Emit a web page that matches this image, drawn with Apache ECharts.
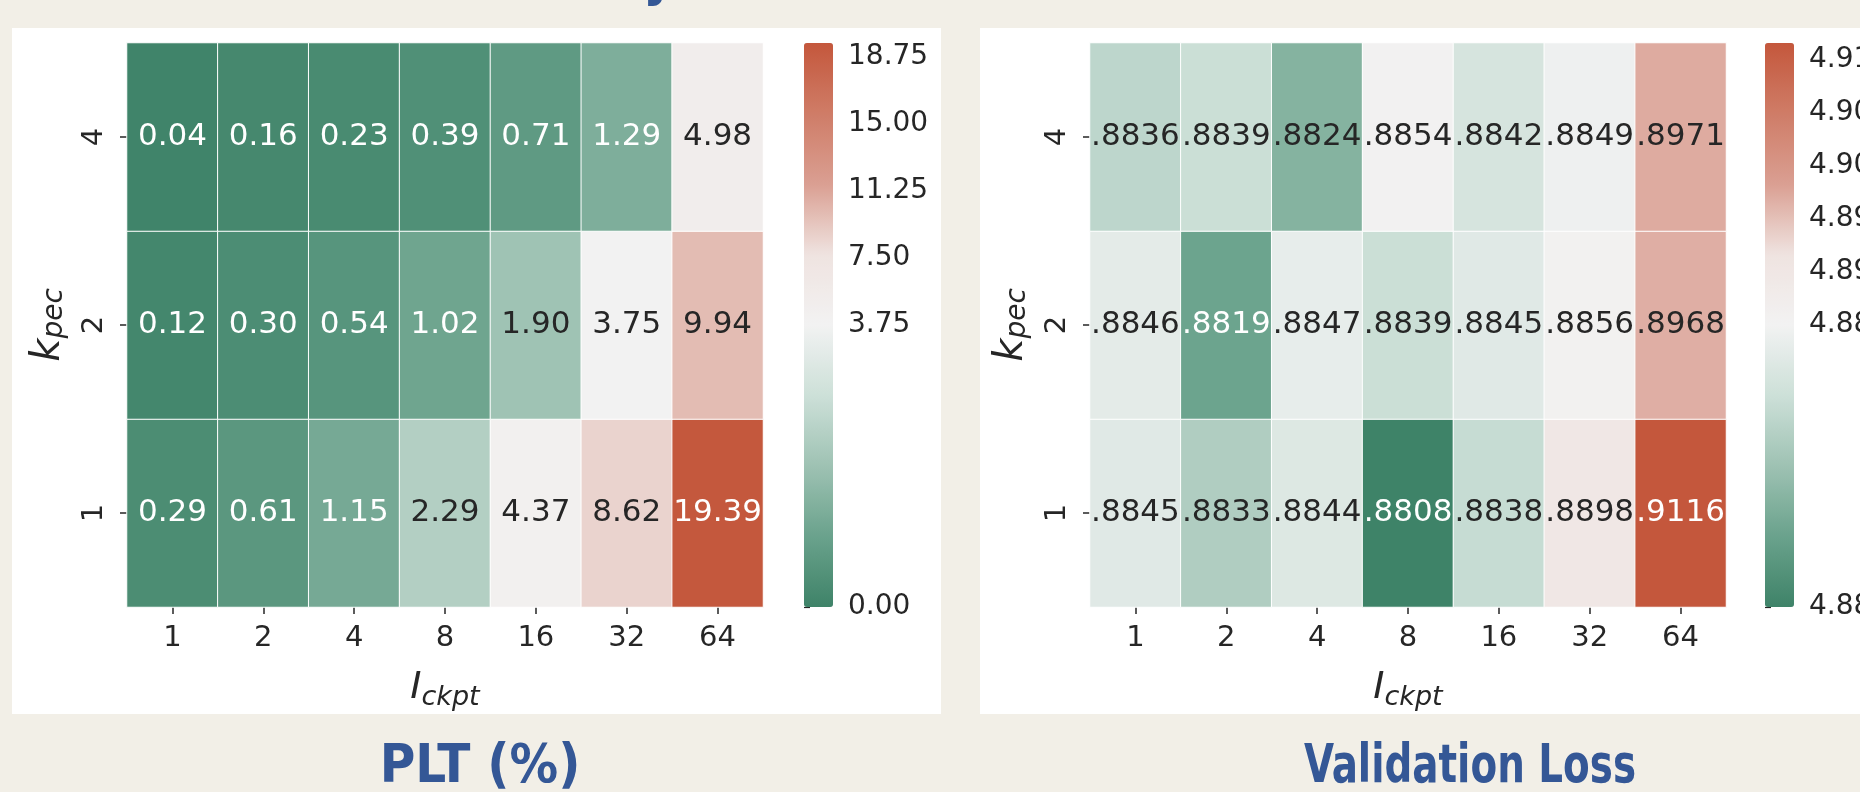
<!DOCTYPE html>
<html>
<head>
<meta charset="utf-8">
<script src="https://cdn.jsdelivr.net/npm/echarts@6/dist/echarts.min.js"></script>
<style>
  html, body { margin: 0; padding: 0; background: #f2efe7; }
  #chart { width: 1860px; height: 792px; }
</style>
</head>
<body>
<div id="chart"></div>
<script>
// checkpoint interval (columns) and k_pec (rows, bottom to top)
var ckptCats = ['1', '2', '4', '8', '16', '32', '64'];
var kpecCats = ['1', '2', '4'];

// PLT (%)
var pltK1 = [0.29, 0.61, 1.15, 2.29, 4.37, 8.62, 19.39];
var pltK2 = [0.12, 0.30, 0.54, 1.02, 1.90, 3.75, 9.94];
var pltK4 = [0.04, 0.16, 0.23, 0.39, 0.71, 1.29, 4.98];

// validation loss
var lossK1 = [4.8845, 4.8833, 4.8844, 4.8808, 4.8838, 4.8898, 4.9116];
var lossK2 = [4.8846, 4.8819, 4.8847, 4.8839, 4.8845, 4.8856, 4.8968];
var lossK4 = [4.8836, 4.8839, 4.8824, 4.8854, 4.8842, 4.8849, 4.8971];

// colorbar norms (vmin, vcenter, vmax) and tick labels
var pltNorm = [0, 3.75, 19.5];
var pltTicksUpper = [3.75, 7.5, 11.25, 15, 18.75];
var pltTicksLower = [0];
var lossNorm = [4.8808, 4.885, 4.9116];
var lossTicksUpper = [4.885, 4.89, 4.895, 4.9, 4.905, 4.91];
var lossTicksLower = [4.8808];

var palette = ['#3e8368', '#6aa28c', '#9ec2b3', '#cde0d8', '#f2f2f2', '#efe3e0', '#da9f92', '#cf7c67', '#c4573c'];
var FONT = 'DejaVu Sans';
var DARK = '#262626';
var TITLE_FONT = '"Liberation Sans Narrow", "DejaVu Sans Condensed", sans-serif';

function twoSlope(v, n) {
  if (v <= n[1]) return 0.5 * Math.max(0, (v - n[0]) / (n[1] - n[0]));
  return 0.5 + 0.5 * Math.min(1, (v - n[1]) / (n[2] - n[1]));
}

function cells(rows, norm) {
  var out = [];
  rows.forEach(function (row, yi) {
    row.forEach(function (v, xi) {
      var t = twoSlope(v, norm);
      out.push({
        value: [xi, yi, v, t],
        label: { color: (t < 0.18 || t > 0.85) ? '#ffffff' : DARK }
      });
    });
  });
  return out;
}

var chart = echarts.init(document.getElementById('chart'));

function catX(gi) {
  return {
    type: 'category', gridIndex: gi, data: ckptCats,
    axisLine: { show: false },
    axisTick: { show: true, alignWithLabel: true, length: 7, lineStyle: { color: DARK, width: 1.5 } },
    axisLabel: { fontFamily: FONT, fontSize: 29, color: DARK, margin: 17 },
    splitLine: { show: false },
    name: '{i|I}{s|ckpt}', nameLocation: 'middle', nameGap: 62,
    nameTextStyle: {
      rich: {
        i: { fontFamily: FONT, fontStyle: 'italic', fontSize: 38, color: DARK, verticalAlign: 'top' },
        s: { fontFamily: FONT, fontStyle: 'italic', fontSize: 27, color: DARK, verticalAlign: 'top', padding: [15, 0, 0, 0] }
      }
    }
  };
}
function catY(gi) {
  return {
    type: 'category', gridIndex: gi, data: kpecCats,
    axisLine: { show: false },
    axisTick: { show: true, alignWithLabel: true, length: 7, lineStyle: { color: DARK, width: 1.5 } },
    axisLabel: { fontFamily: FONT, fontSize: 29, color: DARK, rotate: 90, margin: 18 },
    splitLine: { show: false },
    name: '{k|k}{s|pec}', nameLocation: 'middle', nameGap: 58, nameRotate: 90,
    nameTextStyle: {
      rich: {
        k: { fontFamily: FONT, fontStyle: 'italic', fontSize: 40, color: DARK, verticalAlign: 'top' },
        s: { fontFamily: FONT, fontStyle: 'italic', fontSize: 28, color: DARK, verticalAlign: 'top', padding: [12, 0, 0, 0] }
      }
    }
  };
}
function barX(gi) {
  return { type: 'value', gridIndex: gi, min: 0, max: 1, show: false };
}
function barY(gi, min, max, ticks, fmt) {
  return {
    type: 'value', gridIndex: gi, min: min, max: max, position: 'right',
    axisLine: { show: false },
    splitLine: { show: false },
    axisTick: { show: true, length: 6, lineStyle: { color: DARK, width: 1.2 }, customValues: ticks },
    axisLabel: { fontFamily: FONT, fontSize: 28, color: DARK, margin: 15, customValues: ticks, formatter: fmt }
  };
}

var pltFmt = function (v) { return v.toFixed(2); };
var lossFmt = function (v) { return v.toFixed(3); };

function gridAt(left, top, width, height) {
  return { left: left, top: top, width: width, height: height, outerBoundsMode: 'none', containLabel: false };
}

var option = {
  backgroundColor: '#f2efe7',
  animation: false,
  graphic: [
    { type: 'rect', shape: { x: 12, y: 28, width: 929, height: 686 }, style: { fill: '#ffffff' }, z: -10 },
    { type: 'rect', shape: { x: 980, y: 28, width: 880, height: 686 }, style: { fill: '#ffffff' }, z: -10 },
    { type: 'text', x: 480, y: 768, style: { text: 'PLT (%)', fill: '#345796', font: 'bold 54px ' + TITLE_FONT, textAlign: 'center', textVerticalAlign: 'middle' } },
    { type: 'text', x: 1470, y: 768, scaleX: 0.8, style: { text: 'Validation Loss', fill: '#345796', font: 'bold 54px ' + TITLE_FONT, textAlign: 'center', textVerticalAlign: 'middle' } },
    { type: 'text', x: 659, y: 8, style: { text: 'y', fill: '#345796', font: 'bold 54px ' + TITLE_FONT, textAlign: 'center', textVerticalAlign: 'bottom' } }
  ],
  grid: [
    gridAt(127, 43, 636, 564),
    gridAt(1090, 43, 636, 564),
    gridAt(804, 43, 29, 282),
    gridAt(804, 325, 29, 282),
    gridAt(1765, 43, 29, 282),
    gridAt(1765, 325, 29, 282)
  ],
  xAxis: [catX(0), catX(1), barX(2), barX(3), barX(4), barX(5)],
  yAxis: [
    catY(0), catY(1),
    barY(2, pltNorm[1], pltNorm[2], pltTicksUpper, pltFmt),
    barY(3, pltNorm[0], pltNorm[1], pltTicksLower, pltFmt),
    barY(4, lossNorm[1], lossNorm[2], lossTicksUpper, lossFmt),
    barY(5, lossNorm[0], lossNorm[1], lossTicksLower, lossFmt)
  ],
  visualMap: [
    {
      type: 'continuous', seriesIndex: 0, dimension: 3, min: 0, max: 1,
      inRange: { color: palette }, orient: 'vertical', left: 804, top: 43,
      itemWidth: 29, itemHeight: 564, padding: 0, calculable: false, text: null, hoverLink: false
    },
    {
      type: 'continuous', seriesIndex: 1, dimension: 3, min: 0, max: 1,
      inRange: { color: palette }, orient: 'vertical', left: 1765, top: 43,
      itemWidth: 29, itemHeight: 564, padding: 0, calculable: false, text: null, hoverLink: false
    }
  ],
  series: [
    {
      type: 'heatmap', xAxisIndex: 0, yAxisIndex: 0,
      data: cells([pltK1, pltK2, pltK4], pltNorm),
      itemStyle: { borderColor: '#ffffff', borderWidth: 1 },
      label: { show: true, fontFamily: FONT, fontSize: 31, formatter: function (p) { return p.value[2].toFixed(2); } }
    },
    {
      type: 'heatmap', xAxisIndex: 1, yAxisIndex: 1,
      data: cells([lossK1, lossK2, lossK4], lossNorm),
      itemStyle: { borderColor: '#ffffff', borderWidth: 1 },
      label: { show: true, fontFamily: FONT, fontSize: 31, formatter: function (p) { return p.value[2].toFixed(4).slice(1); } }
    }
  ]
};

chart.setOption(option);
</script>
</body>
</html>
